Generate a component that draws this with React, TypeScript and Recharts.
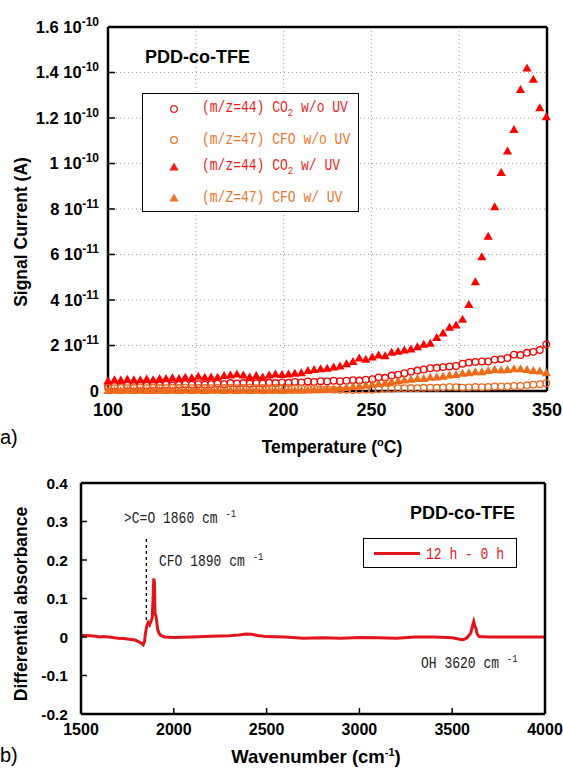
import {
  CartesianGrid,
  Line,
  LineChart,
  ReferenceLine,
  Scatter,
  ScatterChart,
  XAxis,
  YAxis
} from 'recharts';

// (a) mass spectrometry, signal in units of 1e-11 A
const temps = [
  100, 103.7, 107.3, 111.0, 114.7, 118.4, 122.0, 125.7, 129.4, 133.0,
  136.7, 140.4, 144.0, 147.7, 151.4, 155.1, 158.7, 162.4, 166.1, 169.7,
  173.4, 177.1, 180.7, 184.4, 188.1, 191.8, 195.4, 199.1, 202.8, 206.4,
  210.1, 213.8, 217.4, 221.1, 224.8, 228.5, 232.1, 235.8, 239.5, 243.1,
  246.8, 250.5, 254.1, 257.8, 261.5, 265.2, 268.8, 272.5, 276.2, 279.8,
  283.5, 287.2, 290.8, 294.5, 298.2, 301.9, 305.5, 309.2, 312.9, 316.5,
  320.2, 323.9, 327.5, 331.2, 334.9, 338.6, 342.2, 345.9, 349.6
];
const co2NoUv = [
  0.2, 0.22, 0.2, 0.25, 0.22, 0.25, 0.23, 0.26, 0.25, 0.28,
  0.25, 0.27, 0.3, 0.28, 0.3, 0.28, 0.3, 0.32, 0.3, 0.35,
  0.33, 0.35, 0.32, 0.35, 0.33, 0.36, 0.35, 0.38, 0.36, 0.4,
  0.38, 0.42, 0.4, 0.43, 0.42, 0.45, 0.43, 0.45, 0.48, 0.46,
  0.5, 0.52, 0.6, 0.58, 0.68, 0.72, 0.78, 0.85, 0.9, 0.95,
  1.0, 1.02, 1.05, 1.08, 1.1, 1.2, 1.25, 1.28, 1.3, 1.3,
  1.38, 1.4, 1.45, 1.6, 1.58, 1.68, 1.72, 1.8, 2.05
];
const cfoNoUv = [
  0.13, 0.12, 0.14, 0.12, 0.13, 0.15, 0.12, 0.14, 0.13, 0.12,
  0.14, 0.13, 0.15, 0.12, 0.14, 0.13, 0.12, 0.14, 0.13, 0.15,
  0.12, 0.13, 0.14, 0.12, 0.13, 0.12, 0.14, 0.12, 0.13, 0.12,
  0.11, 0.1, 0.1, 0.08, 0.08, 0.06, 0.05, 0.05, 0.04, 0.05,
  0.06, 0.06, 0.08, 0.1, 0.1, 0.12, 0.12, 0.13, 0.12, 0.14,
  0.15, 0.14, 0.16, 0.18, 0.17, 0.15, 0.16, 0.18, 0.17, 0.18,
  0.2, 0.2, 0.2, 0.22, 0.22, 0.25, 0.28, 0.3, 0.34
];
const co2Uv = [
  0.45, 0.5, 0.48, 0.52, 0.5, 0.5, 0.53, 0.5, 0.55, 0.55,
  0.58, 0.55, 0.6, 0.58, 0.65, 0.6, 0.62, 0.6, 0.68, 0.7,
  0.75, 0.7, 0.62, 0.68, 0.62, 0.7, 0.75, 0.72, 0.75, 0.78,
  0.8, 0.9, 0.95, 0.98, 1.0, 1.05, 1.1, 1.2, 1.3, 1.45,
  1.4, 1.5, 1.58, 1.55, 1.7, 1.75, 1.8, 1.85, 1.95, 2.05,
  2.1, 2.35, 2.55, 2.8, 2.9, 3.15, 3.8, 4.8, 5.9, 6.8,
  8.1, 9.6, 10.55, 11.5, 13.25, 14.2, 13.7, 12.45, 12.05
];
const cfoUv = [
  0.02, 0.03, 0.02, 0.03, 0.02, 0.03, 0.02, 0.02, 0.03, 0.02,
  0.03, 0.02, 0.03, 0.02, 0.03, 0.02, 0.03, 0.03, 0.02, 0.03,
  0.02, 0.03, 0.02, 0.03, 0.02, 0.03, 0.03, 0.02, 0.03, 0.03,
  0.03, 0.04, 0.05, 0.06, 0.08, 0.1, 0.12, 0.15, 0.2, 0.22,
  0.25, 0.3, 0.33, 0.35, 0.42, 0.45, 0.48, 0.52, 0.55, 0.55,
  0.6, 0.62, 0.65, 0.7, 0.72, 0.78, 0.8, 0.85, 0.85, 0.9,
  0.95, 0.92, 0.95, 0.98, 0.98, 0.95, 0.9, 0.88, 0.8
];

const tTicks = [100, 150, 200, 250, 300, 350];
const sigTicks = [0, 2, 4, 6, 8, 10, 12, 14, 16];
const sigMantissa = ['0', '2', '4', '6', '8', '1', '1.2', '1.4', '1.6'];
const sigExponent = ['', '-11', '-11', '-11', '-11', '-10', '-10', '-10', '-10'];

// (b) FT-IR differential spectrum
const wavenumbers = [
  1500, 1520, 1550, 1580, 1600, 1620, 1650, 1680, 1700, 1730,
  1760, 1790, 1810, 1825, 1835, 1842, 1848, 1855, 1862, 1870,
  1878, 1884, 1888, 1892, 1896, 1899, 1904, 1908, 1913, 1920,
  1930, 1950, 2000, 2100, 2200, 2300, 2350, 2390, 2420, 2450,
  2500, 2600, 2700, 2800, 2900, 3000, 3100, 3200, 3300, 3400,
  3500, 3540, 3560, 3580, 3600, 3610, 3616, 3622, 3628, 3634,
  3645, 3700, 3800, 3900, 4000
];
const absorbance = [
  0.004, 0.004, 0.003, 0.002, 0.0, 0.001, 0.0, -0.002, -0.003, -0.004,
  -0.006, -0.008, -0.012, -0.016, -0.02, -0.012, 0.012, 0.03, 0.038, 0.032,
  0.042, 0.05, 0.1, 0.152, 0.14, 0.06, 0.055, 0.04, 0.02, 0.01,
  0.004, 0.0, -0.001, 0.0, 0.002, 0.003, 0.005, 0.008, 0.007, 0.004,
  0.001, 0.0, -0.003, -0.002, -0.003, -0.001, -0.002, -0.003, 0.0, 0.0,
  -0.002, -0.006, -0.007, -0.002, 0.01, 0.03, 0.04, 0.028, 0.022, 0.008,
  0.001, 0.0, 0.0, 0.0, 0.0
];
const wnTicks = [1500, 2000, 2500, 3000, 3500, 4000];
const absTicks = [-0.2, -0.1, 0, 0.1, 0.2, 0.3, 0.4];
const carbonylX = 1852;
const carbonylRange = [0.044, 0.255];

const RED = '#ff0000';
const ORANGE = '#f06a1c';
const LINE_RED = '#e0161c';
const MONO = '"Liberation Mono", "DejaVu Sans Mono", monospace';

const frame = { stroke: '#000', strokeWidth: 2.5 };
const tickStroke = { stroke: '#000', strokeWidth: 1.5 };

const openCircle = (color: string) => (p: any) => (
  <circle cx={p.cx} cy={p.cy} r={3.3} fill="none" stroke={color} strokeWidth={1.3} />
);
const triangle = (color: string) => (p: any) => (
  <polygon
    points={`${p.cx},${p.cy - 4.5} ${p.cx + 4.6},${p.cy + 3.5} ${p.cx - 4.6},${p.cy + 3.5}`}
    fill={color}
  />
);

const SigTick = ({ x, y, index }: any) => (
  <text x={x} y={y} dy="0.35em" textAnchor="end" fontSize={16.5} fontWeight="bold" fill="#000">
    {sigMantissa[index]}
    {sigExponent[index] && (
      <>
        {' 10'}
        <tspan dy={-7} fontSize={12}>{sigExponent[index]}</tspan>
      </>
    )}
  </text>
);

const pts = (vals: number[]) => temps.map((t, i) => ({ t, v: vals[i] }));

const abs = (style: React.CSSProperties): React.CSSProperties => ({ position: 'absolute', ...style });

// narrow, tall monospace look of the original annotations
const monoText: React.CSSProperties = {
  fontFamily: MONO,
  fontSize: 13,
  whiteSpace: 'pre',
  display: 'inline-block',
  transform: 'scaleY(1.25)',
  transformOrigin: 'left center'
};

function LegendRow({ top, marker, color, children }: any) {
  return (
    <div style={abs({ left: 25, top, display: 'flex', alignItems: 'center', color })}>
      <svg width={12} height={12} style={{ marginRight: 22 }}>
        {marker === 'circle' ? (
          <circle cx={6} cy={6} r={3.3} fill="none" stroke={color} strokeWidth={1.3} />
        ) : (
          <polygon points="6,1.5 10.6,9.5 1.4,9.5" fill={color} />
        )}
      </svg>
      <span style={monoText}>{children}</span>
    </div>
  );
}

function SignalChart() {
  return (
    <div style={abs({ left: 0, top: 0, width: 563, height: 460 })}>
      <ScatterChart width={563} height={460} margin={{ top: 27, right: 16, bottom: 39, left: 8 }}>
        <CartesianGrid stroke="#a0a0a0" strokeDasharray="1 3" />
        <XAxis
          dataKey="t"
          type="number"
          domain={[100, 350]}
          ticks={tTicks}
          interval={0}
          height={30}
          tickSize={-7}
          tickMargin={19}
          axisLine={frame}
          tickLine={tickStroke}
          tick={{ fill: '#000', fontSize: 18, fontWeight: 'bold' }}
        />
        <XAxis xAxisId="top" orientation="top" mirror type="number" domain={[100, 350]} ticks={tTicks}
          interval={0} tick={false} tickSize={7} axisLine={frame} tickLine={tickStroke} />
        <YAxis
          dataKey="v"
          type="number"
          domain={[0, 16]}
          ticks={sigTicks}
          interval={0}
          width={100}
          tickSize={-7}
          tickMargin={16}
          axisLine={frame}
          tickLine={tickStroke}
          tick={<SigTick />}
        />
        <YAxis yAxisId="right" orientation="right" mirror type="number" domain={[0, 16]} ticks={sigTicks}
          interval={0} width={1} tick={false} tickSize={7} axisLine={frame} tickLine={tickStroke} />
        <Scatter data={pts(co2NoUv)} shape={openCircle(RED)} isAnimationActive={false} />
        <Scatter data={pts(cfoNoUv)} shape={openCircle(ORANGE)} isAnimationActive={false} />
        <Scatter data={pts(co2Uv)} shape={triangle(RED)} isAnimationActive={false} />
        <Scatter data={pts(cfoUv)} shape={triangle(ORANGE)} isAnimationActive={false} />
      </ScatterChart>
      <div style={abs({ left: 145, top: 47, fontSize: 18, fontWeight: 'bold' })}>PDD-co-TFE</div>
      <div style={abs({ left: 142, top: 93, width: 215, height: 117, border: '1.5px solid #000', background: '#fff' })}>
        <LegendRow top={6} marker="circle" color="#ee1c1c">(m/z=44) CO<sub style={{ fontSize: 9 }}>2</sub> w/o UV</LegendRow>
        <LegendRow top={38} marker="circle" color="#e8762e">(m/z=47) CFO w/o UV</LegendRow>
        <LegendRow top={64} marker="tri" color="#ee1c1c">(m/z=44) CO<sub style={{ fontSize: 9 }}>2</sub> w/ UV</LegendRow>
        <LegendRow top={96} marker="tri" color="#e8762e">(m/Z=47) CFO w/ UV</LegendRow>
      </div>
      <div style={abs({ left: 21, top: 232, transform: 'translate(-50%, -50%) rotate(-90deg)', fontSize: 17.5, fontWeight: 'bold', whiteSpace: 'nowrap' })}>
        Signal Current (A)
      </div>
      <div style={abs({ left: 332, top: 447, transform: 'translate(-50%, -50%)', fontSize: 17.5, fontWeight: 'bold', whiteSpace: 'nowrap' })}>
        Temperature (<sup style={{ fontSize: 11 }}>o</sup>C)
      </div>
      <div style={abs({ left: 0, top: 426, fontSize: 20 })}>a)</div>
    </div>
  );
}

function SpectrumChart() {
  const data = wavenumbers.map((w, i) => ({ w, a: absorbance[i] }));
  return (
    <div style={abs({ left: 0, top: 460, width: 563, height: 308 })}>
      <LineChart width={563} height={308} data={data} margin={{ top: 23, right: 18, bottom: 30, left: 8 }}>
        <XAxis
          dataKey="w"
          type="number"
          domain={[1500, 4000]}
          ticks={wnTicks}
          interval={0}
          height={24}
          tickSize={-6}
          tickMargin={16}
          axisLine={frame}
          tickLine={tickStroke}
          tick={{ fill: '#000', fontSize: 16, fontWeight: 'bold' }}
        />
        <XAxis xAxisId="top" orientation="top" mirror type="number" domain={[1500, 4000]} ticks={wnTicks}
          interval={0} tick={false} tickSize={6} axisLine={frame} tickLine={tickStroke} />
        <YAxis
          type="number"
          domain={[-0.2, 0.4]}
          ticks={absTicks}
          interval={0}
          width={73}
          tickSize={-6}
          tickMargin={19}
          axisLine={frame}
          tickLine={tickStroke}
          tickFormatter={(v: number) => (v === 0 ? '0' : v.toFixed(1))}
          tick={{ fill: '#000', fontSize: 15.5, fontWeight: 'bold' }}
        />
        <YAxis yAxisId="right" orientation="right" mirror type="number" domain={[-0.2, 0.4]} ticks={absTicks}
          interval={0} width={1} tick={false} tickSize={6} axisLine={frame} tickLine={tickStroke} />
        <ReferenceLine
          segment={[{ x: carbonylX, y: carbonylRange[0] }, { x: carbonylX, y: carbonylRange[1] }]}
          stroke="#000"
          strokeWidth={1.3}
          strokeDasharray="3 3"
        />
        <Line type="linear" dataKey="a" stroke={LINE_RED} strokeWidth={3} dot={false} isAnimationActive={false} />
      </LineChart>
      <div style={abs({ left: 410, top: 43, fontSize: 18, fontWeight: 'bold' })}>PDD-co-TFE</div>
      <div style={abs({ left: 363, top: 78, width: 152, height: 28, border: '1.5px solid #000', background: '#fff' })}>
        <div style={abs({ left: 10, top: 13, width: 46, height: 3, background: LINE_RED })} />
        <div style={abs({ left: 62, top: 5, color: LINE_RED })}>
          <span style={monoText}>12 h - 0 h</span>
        </div>
      </div>
      <div style={abs({ left: 124, top: 48, color: '#222' })}>
        <span style={monoText}>{'>C=O 1860 cm '}<sup style={{ fontSize: 9 }}>-1</sup></span>
      </div>
      <div style={abs({ left: 159, top: 91, color: '#222' })}>
        <span style={monoText}>{'CFO 1890 cm '}<sup style={{ fontSize: 9 }}>-1</sup></span>
      </div>
      <div style={abs({ left: 421, top: 193, color: '#222' })}>
        <span style={monoText}>{'OH 3620 cm '}<sup style={{ fontSize: 9 }}>-1</sup></span>
      </div>
      <div style={abs({ left: 21, top: 144, transform: 'translate(-50%, -50%) rotate(-90deg)', fontSize: 17.5, fontWeight: 'bold', whiteSpace: 'nowrap' })}>
        Differential absorbance
      </div>
      <div style={abs({ left: 316, top: 297, transform: 'translate(-50%, -50%)', fontSize: 18.5, fontWeight: 'bold', whiteSpace: 'nowrap' })}>
        Wavenumber (cm<sup style={{ fontSize: 11 }}>-1</sup>)
      </div>
      <div style={abs({ left: 0, top: 284, fontSize: 20 })}>b)</div>
    </div>
  );
}

export default function App() {
  return (
    <div style={abs({ left: 0, top: 0, width: 563, height: 768, background: '#fff', overflow: 'hidden', fontFamily: '"Liberation Sans", Arial, sans-serif' })}>
      <SignalChart />
      <SpectrumChart />
    </div>
  );
}
